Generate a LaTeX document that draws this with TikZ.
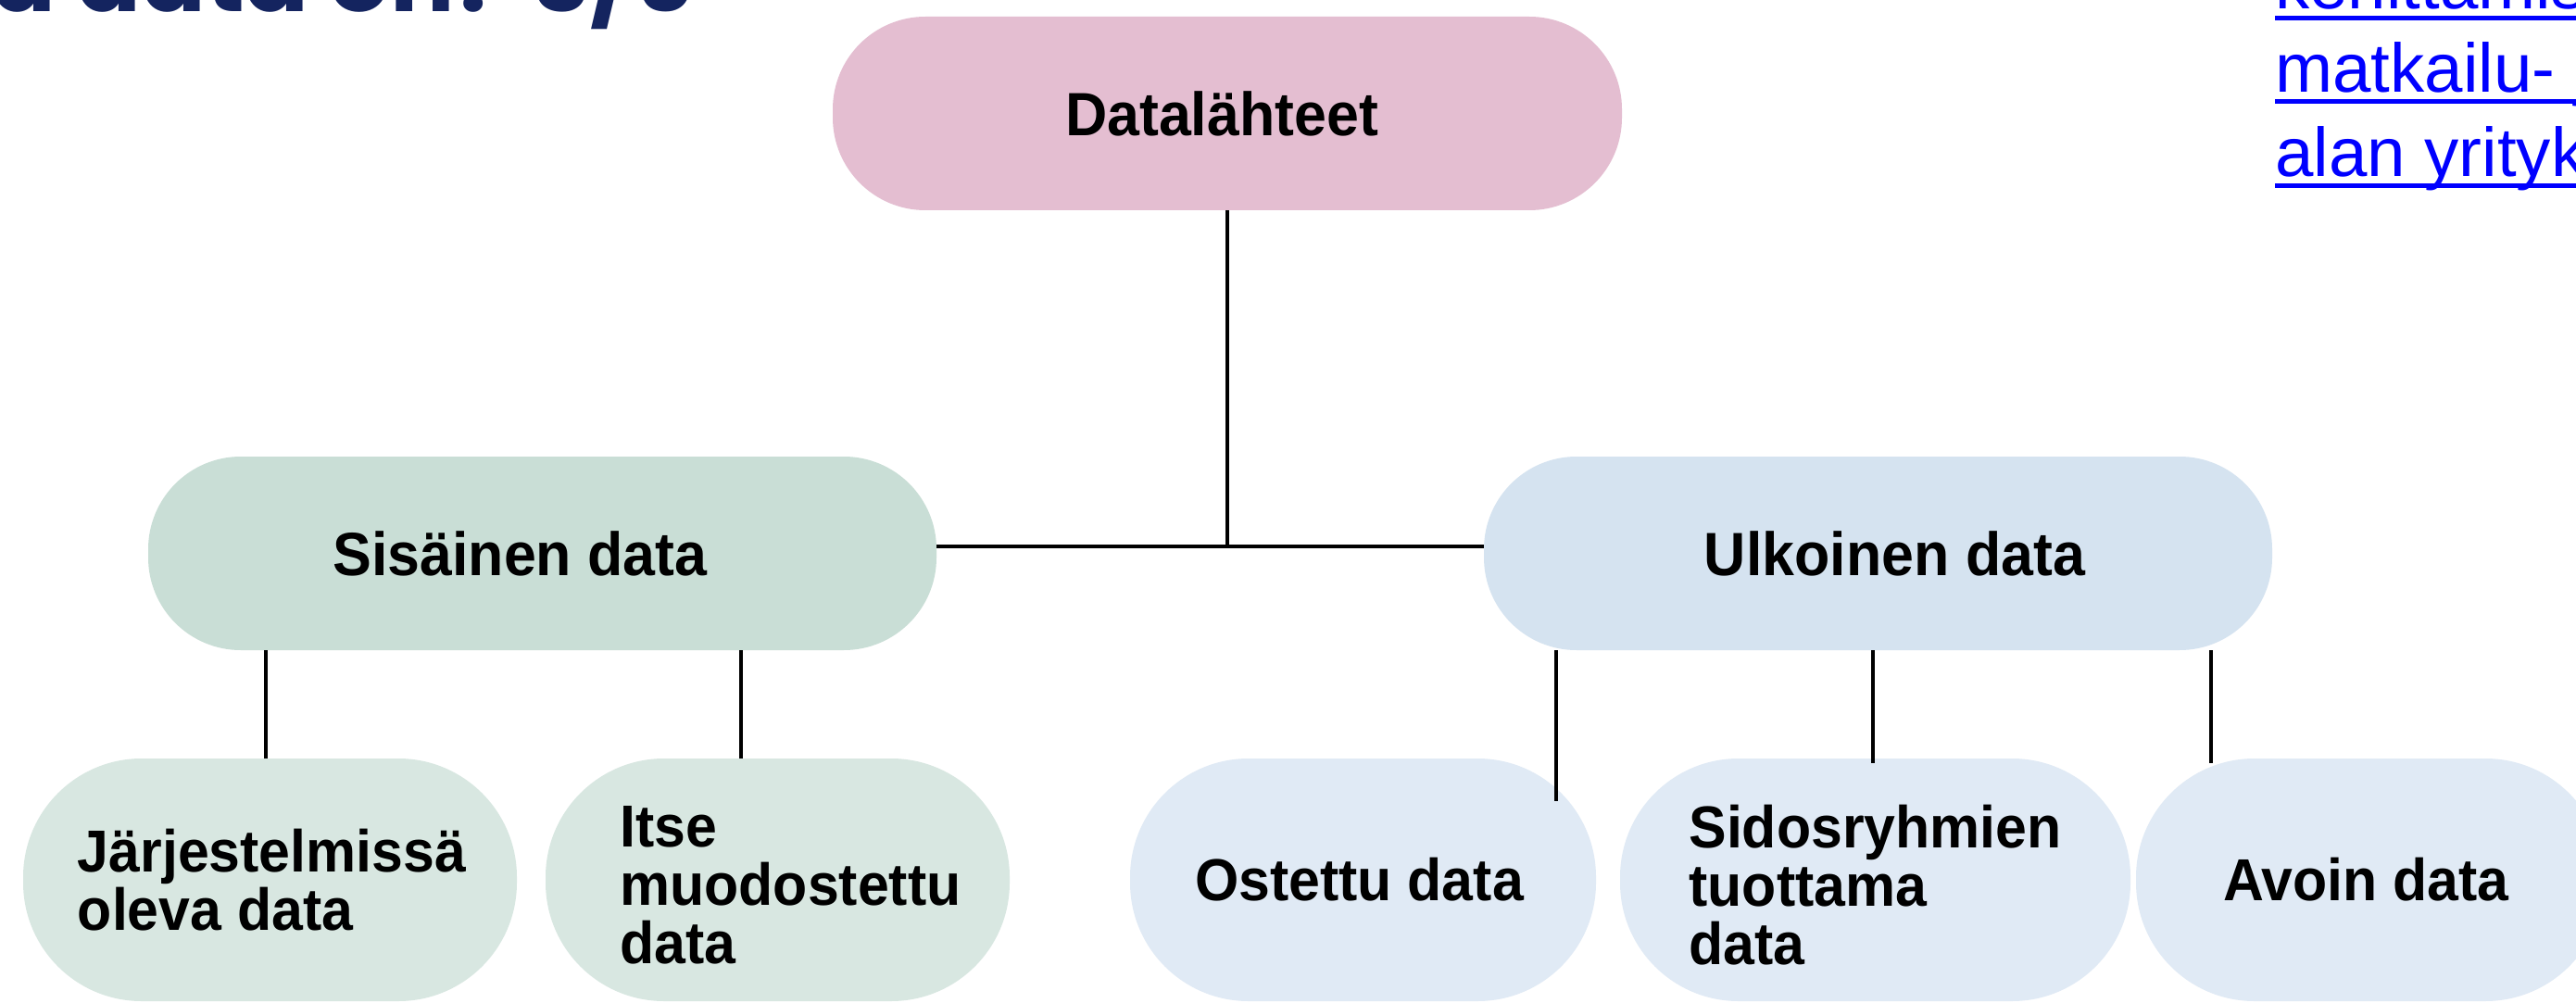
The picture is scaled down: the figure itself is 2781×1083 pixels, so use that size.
\documentclass[tikz,border=0pt]{standalone}
\usepackage{fontspec}
\setmainfont{Liberation Sans}
\newfontfamily\boxfont[FakeStretch=0.95]{Liberation Sans}
\newfontfamily\titlefont{Poppins}
\usetikzlibrary{calc}
\definecolor{rootfill}{HTML}{E4BED1}
\definecolor{innerfill}{HTML}{C9DED6}
\definecolor{outerfill}{HTML}{D5E3F0}
\definecolor{innerleaf}{HTML}{D8E7E1}
\definecolor{outerleaf}{HTML}{E0EAF5}
\definecolor{titlenavy}{HTML}{14245F}
\definecolor{linkblue}{HTML}{0000FF}

\begin{document}
\begin{tikzpicture}[x=1pt,y=-1pt,
  pill/.style={draw=none, inner sep=0pt},
  midpill/.style={pill, minimum height=209pt, minimum width=851pt,
    rounded corners=100pt},
  leafpill/.style={pill, minimum height=262pt, rounded corners=128pt},
  midtext/.style={inner sep=0pt, align=left, text=black,
    font=\boxfont\bfseries\fontsize{66}{66}\selectfont},
  leaftext/.style={inner sep=0pt, align=left, text=black,
    font=\boxfont\bfseries\fontsize{64}{63}\selectfont},
  conn/.style={line width=3.5pt, black},
  linktext/.style={anchor=base west, inner sep=0pt, text=linkblue,
    font=\fontsize{74.5}{86}\selectfont},
  linkrule/.style={line width=5.5pt, linkblue},
]
\useasboundingbox (0,0) rectangle (2781,1083);
\clip (0,0) rectangle (2781,1083);
\fill[white] (0,0) rectangle (2781,1083);

% heading, cut by the top edge
\node[anchor=base east, inner sep=0pt, text=titlenavy,
  font=\titlefont\bfseries\fontsize{103}{115}\selectfont] (title) at (750,13) {Mitä data on? 3/6};

% link text in the upper right corner
\node[linktext] (l1) at (2456,10) {kehittämiseen};
\node[linktext] (l2) at (2456,100) {matkailu- ja ravitsemis-};
\node[linktext] (l3) at (2456,191) {alan yrityksille};
\foreach \ln in {l1,l2,l3}
  \draw[linkrule] ([yshift=-9.5pt]\ln.base west) -- ([yshift=-9.5pt]\ln.base east);

% tree nodes: filled pills, labels set on top
\node[midpill, minimum width=852pt, fill=rootfill] (src) at (1325,122.5) {};
\node[midpill, fill=innerfill] (sis) at (585.5,597.5) {};
\node[midpill, fill=outerfill] (ulk) at (2027.5,597.5) {};

\node[leafpill, minimum width=533pt, fill=innerleaf] (jar) at (291.5,950) {};
\node[leafpill, minimum width=501pt, fill=innerleaf] (itse) at (839.5,950) {};
\node[leafpill, minimum width=503pt, fill=outerleaf] (ost) at (1471.5,950) {};
\node[leafpill, minimum width=551pt, fill=outerleaf] (sid) at (2024.5,950) {};
\node[leafpill, minimum width=505pt, fill=outerleaf] (avo) at (2558.5,950) {};

\node[midtext] (src-t) at ([xshift=-6pt]src.center) {Datalähteet};
\node[midtext] (sis-t) at ([xshift=-24pt]sis.center) {Sisäinen data};
\node[midtext] (ulk-t) at ([xshift=18pt]ulk.center) {Ulkoinen data};

\node[leaftext] (jar-t) at ([xshift=2pt]jar.center) {Järjestelmissä\\oleva data};
\node[leaftext] (itse-t) at ([xshift=14pt,yshift=-6pt]itse.center) {Itse\\muodostettu\\data};
\node[leaftext] (ost-t) at ([xshift=-4pt]ost.center) {Ostettu data};
\node[leaftext] (sid-t) at ([yshift=-6pt]sid.center) {Sidosryhmien\\tuottama\\data};
\node[leaftext] (avo-t) at ([xshift=-4pt]avo.center) {Avoin data};

% connectors
\coordinate (bus) at (1325,590);
\coordinate (ostend) at (1680,865);
\draw[conn] (src.south) -- (bus);
\draw[conn] (sis.east |- bus) -- (ulk.west |- bus);

\draw[conn] ([xshift=-4.5pt]jar.north |- sis.south) -- ([xshift=-4.5pt]jar.north);
\draw[conn] ([xshift=-39.5pt]itse.north |- sis.south) -- ([xshift=-39.5pt]itse.north);

\draw[conn] (ostend |- ulk.south) -- (ostend);
\draw[conn] ([xshift=-2.5pt]sid.north |- ulk.south) -- ([xshift=-2.5pt,yshift=-5pt]sid.north);
\draw[conn] ([xshift=-171.5pt]avo.north |- ulk.south) -- ([xshift=-171.5pt,yshift=-5pt]avo.north);
\end{tikzpicture}
\end{document}
